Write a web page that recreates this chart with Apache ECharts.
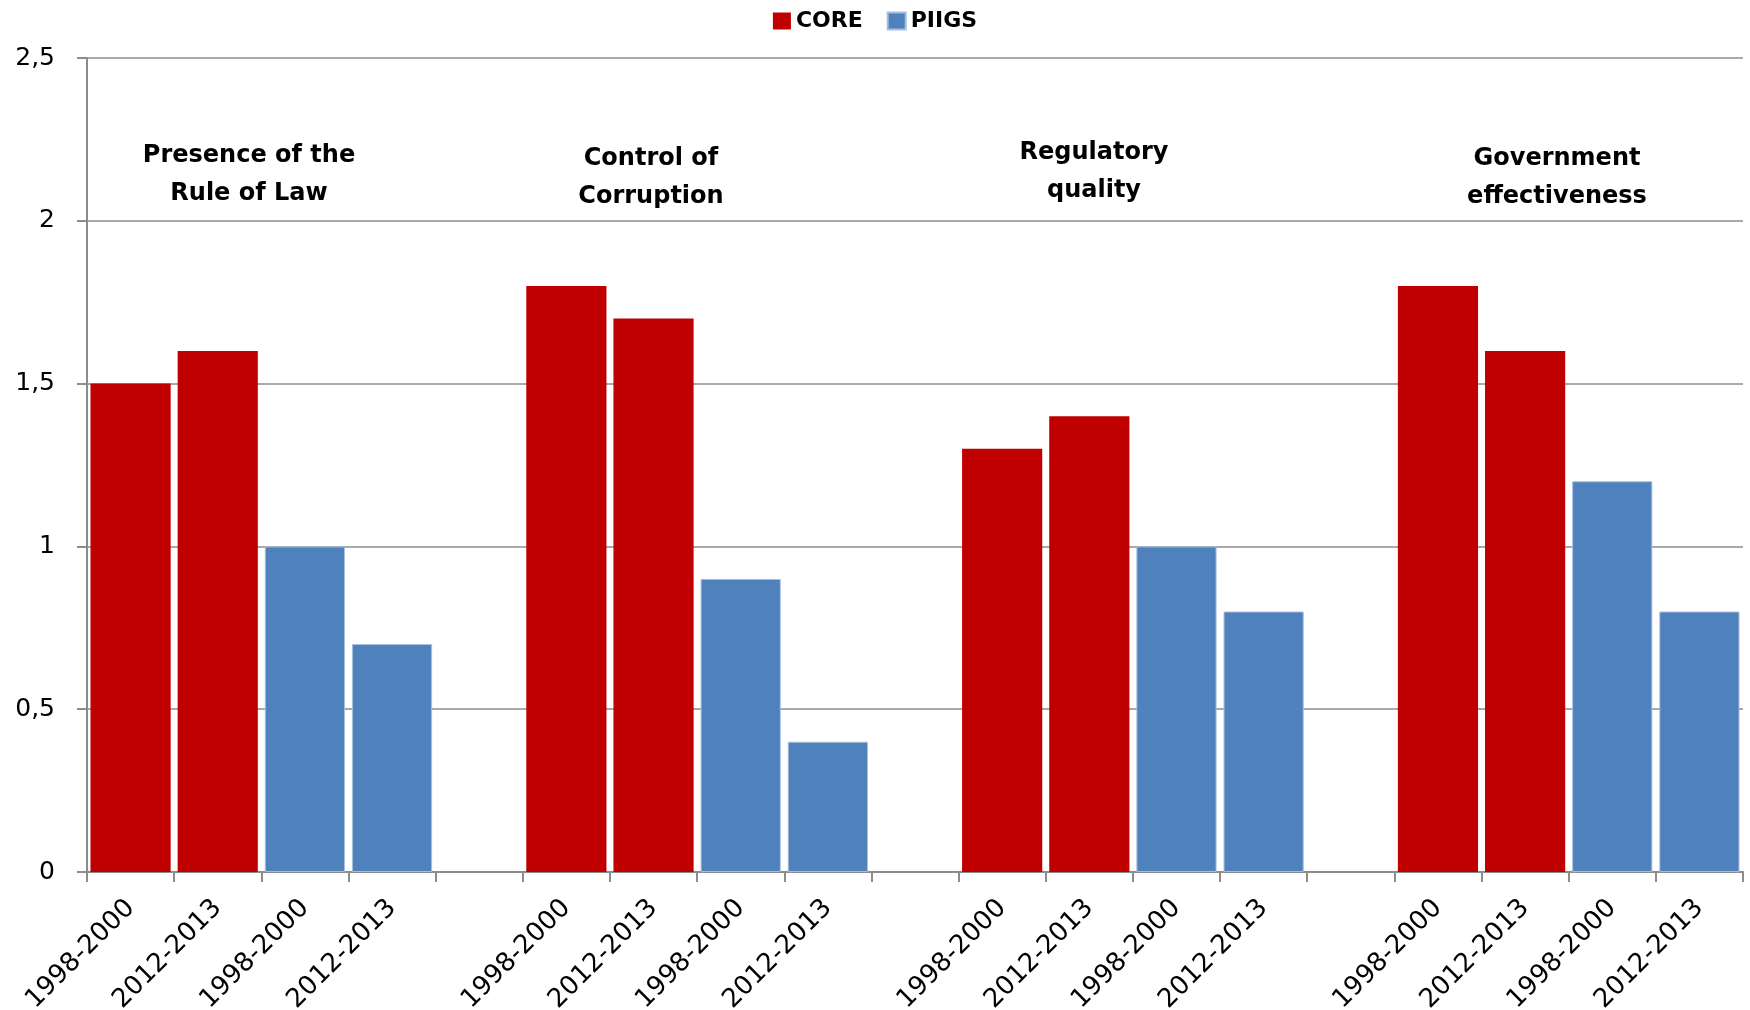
<!DOCTYPE html>
<html>
<head>
<meta charset="utf-8">
<script src="https://cdn.jsdelivr.net/npm/echarts@6/dist/echarts.min.js"></script>
<style>
  html, body { margin: 0; padding: 0; background: #fff; }
  #chart { width: 1750px; height: 1010px; }
</style>
</head>
<body>
<div id="chart"></div>
<script>
// Period labels along the x axis; empty slots separate the four indicator groups
const categories = [
  '1998-2000', '2012-2013', '1998-2000', '2012-2013', '',
  '1998-2000', '2012-2013', '1998-2000', '2012-2013', '',
  '1998-2000', '2012-2013', '1998-2000', '2012-2013', '',
  '1998-2000', '2012-2013', '1998-2000', '2012-2013'
];

// Indicator scores per slot (null where the other group is drawn or in the gaps)
const coreValues = [
  1.5, 1.6, null, null, null,
  1.8, 1.7, null, null, null,
  1.3, 1.4, null, null, null,
  1.8, 1.6, null, null
];
const piigsValues = [
  null, null, 1.0, 0.7, null,
  null, null, 0.9, 0.4, null,
  null, null, 1.0, 0.8, null,
  null, null, 1.2, 0.8
];

// Group headings
const groupTitles = [
  'Presence of the\nRule of Law',
  'Control of\nCorruption',
  'Regulatory\nquality',
  'Government\neffectiveness'
];

const FONT = '"DejaVu Sans", "Open Sans", sans-serif';
const GRID_COLOR = '#8c8c8c';

const chart = echarts.init(document.getElementById('chart'), null, { renderer: 'canvas' });

const titlePos = [
  { x: 249, y: 175 },
  { x: 651, y: 178 },
  { x: 1094, y: 172 },
  { x: 1557, y: 178 }
];

const option = {
  backgroundColor: '#ffffff',
  animation: false,
  legend: {
    top: 5,
    left: 'center',
    itemWidth: 18,
    itemHeight: 17,
    itemGap: 24,
    icon: 'rect',
    textStyle: { fontFamily: FONT, fontSize: 22, fontWeight: 'bold', color: '#000' },
    data: ['CORE', 'PIIGS']
  },
  grid: { left: 87, right: 7, top: 58, bottom: 138, containLabel: false, outerBoundsMode: 'none' },
  xAxis: {
    type: 'category',
    data: categories,
    axisLine: { lineStyle: { color: GRID_COLOR, width: 2 } },
    axisTick: { show: true, length: 10, interval: 0, lineStyle: { color: GRID_COLOR, width: 2 } },
    axisLabel: {
      interval: 0,
      rotate: 45,
      margin: 32,
      fontFamily: FONT,
      fontSize: 26,
      color: '#000'
    }
  },
  yAxis: {
    type: 'value',
    min: 0,
    max: 2.5,
    interval: 0.5,
    axisLine: { show: true, lineStyle: { color: GRID_COLOR, width: 2 } },
    axisTick: { show: true, length: 10, lineStyle: { color: GRID_COLOR, width: 2 } },
    splitLine: { lineStyle: { color: GRID_COLOR, width: 1.5 } },
    axisLabel: {
      margin: 32,
      fontFamily: FONT,
      fontSize: 25,
      color: '#000',
      formatter: v => String(v).replace('.', ',')
    }
  },
  series: [
    {
      name: 'CORE',
      type: 'bar',
      stack: 'all',
      data: coreValues,
      barCategoryGap: '8%',
      itemStyle: { color: '#C00000' }
    },
    {
      name: 'PIIGS',
      type: 'bar',
      stack: 'all',
      data: piigsValues,
      barCategoryGap: '8%',
      itemStyle: { color: '#4F81BD', borderColor: '#A7BFDE', borderWidth: 1 }
    }
  ],
  graphic: groupTitles.map((t, i) => ({
    type: 'text',
    x: titlePos[i].x,
    y: titlePos[i].y,
    z: 10,
    style: {
      text: t,
      fontFamily: FONT,
      fontSize: 24,
      fontWeight: 'bold',
      fill: '#000',
      align: 'center',
      verticalAlign: 'middle',
      lineHeight: 38
    }
  }))
};

chart.setOption(option);
</script>
</body>
</html>
